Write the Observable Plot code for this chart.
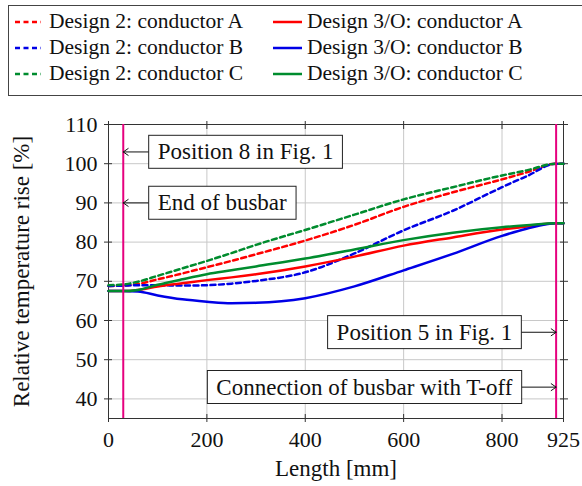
<!DOCTYPE html>
<html><head><meta charset="utf-8">
<script src="https://cdn.jsdelivr.net/npm/d3@7"></script>
<script src="https://cdn.jsdelivr.net/npm/@observablehq/plot@0.6"></script>
<style>
body{margin:0;background:#fff;font-family:"Liberation Serif","Times New Roman",Tinos,"DejaVu Serif","Noto Serif",serif;}
#legend{position:relative;width:582px;height:100px;overflow:hidden;}
#legend .box{position:absolute;left:8px;top:5px;width:600px;height:91px;border:1px solid #444;box-sizing:border-box;}
.item{position:absolute;font-size:21.5px;white-space:nowrap;line-height:1;color:#111;}
.sample{position:absolute;}
#chart svg{display:block;}
</style></head><body>
<div id="legend"><div class="box"></div></div>
<div id="chart"></div>
<script>
// x positions along the busbar (mm)
const lengths = [0, 30, 60, 100, 150, 200, 250, 300, 400, 500, 600, 700, 800, 850, 910, 925];
// Design 2 (dashed)
const d2A = [68.8, 68.9, 69.3, 70.5, 72.0, 73.6, 75.2, 76.9, 80.4, 84.4, 89.0, 92.7, 96.0, 97.8, 100, 100];
const d2B = [68.8, 68.9, 69.0, 69.0, 68.9, 69.0, 69.4, 70.1, 72.3, 77.1, 83.0, 88.0, 94.0, 96.8, 100, 100];
const d2C = [69.0, 69.2, 69.9, 71.4, 73.3, 75.2, 77.2, 79.3, 83.1, 87.0, 90.9, 94.0, 97.0, 98.3, 100, 100];
// Design 3/O (solid)
const d3A = [67.5, 67.5, 67.8, 68.7, 69.5, 70.3, 71.0, 71.8, 73.8, 76.3, 79.1, 81.2, 83.2, 84.0, 84.8, 84.8];
const d3B = [67.5, 67.5, 67.4, 66.4, 65.4, 64.8, 64.4, 64.5, 65.7, 68.7, 72.8, 77.0, 81.6, 83.4, 84.8, 84.8];
const d3C = [67.5, 67.5, 67.8, 69.1, 70.5, 71.8, 72.8, 73.8, 75.8, 78.1, 80.5, 82.4, 83.8, 84.3, 84.8, 84.8];

const seriesNames = ["Design 2: conductor A", "Design 2: conductor B", "Design 2: conductor C",
                     "Design 3/O: conductor A", "Design 3/O: conductor B", "Design 3/O: conductor C"];
const seriesValues = [d2A, d2B, d2C, d3A, d3B, d3C];
const seriesColors = ["#ff0000", "#0000e6", "#008c2e", "#ff0000", "#0000e6", "#008c2e"];
const seriesDashed = [true, true, true, false, false, false];

const xTicks = [0, 200, 400, 600, 800, 925];
const yTicks = [40, 50, 60, 70, 80, 90, 100, 110];
const markerLines = [30, 910];

const annTexts = ["Position 8 in Fig. 1", "End of busbar", "Position 5 in Fig. 1", "Connection of busbar with T-off"];
const annY = [103, 90, 57, 43];
const annTextX = [100, 100, 821, 821];
const annTarget = [30, 30, 910, 910];
const annAnchor = ["start", "start", "end", "end"];

const annotations = annTexts.map((t, i) => ({text: t, y: annY[i], x: annTextX[i], target: annTarget[i], anchor: annAnchor[i]}));

const FONT = '"Liberation Serif", "Times New Roman", Tinos, "DejaVu Serif", "Noto Serif", serif';

// legend
const legend = document.getElementById("legend");
const rowY = [22, 48, 74];
seriesNames.forEach((name, i) => {
  const col = i < 3 ? 0 : 1, row = i % 3;
  const sx = col === 0 ? 15 : 273, sw = col === 0 ? 26 : 29;
  const tx = col === 0 ? 49 : 307;
  const s = document.createElementNS("http://www.w3.org/2000/svg", "svg");
  s.setAttribute("class", "sample");
  s.setAttribute("width", sw); s.setAttribute("height", 6);
  s.style.left = sx + "px"; s.style.top = (rowY[row] - 3) + "px";
  const l = document.createElementNS("http://www.w3.org/2000/svg", "line");
  l.setAttribute("x1", 0); l.setAttribute("x2", sw); l.setAttribute("y1", 3); l.setAttribute("y2", 3);
  l.setAttribute("stroke", seriesColors[i]); l.setAttribute("stroke-width", 2.5);
  if (seriesDashed[i]) l.setAttribute("stroke-dasharray", "5,3.5");
  s.append(l);
  legend.append(s);
  const d = document.createElement("div");
  d.className = "item"; d.textContent = name;
  d.style.left = tx + "px"; d.style.top = (rowY[row] - 11) + "px";
  legend.append(d);
});

const data = [];
seriesNames.forEach((name, i) => lengths.forEach((x, j) => data.push({series: name, x, y: seriesValues[i][j], i})));

const plot = Plot.plot({
  width: 582, height: 386,
  marginTop: 24, marginBottom: 68, marginLeft: 108, marginRight: 19,
  style: {fontFamily: FONT, fontSize: "22px", color: "#111", background: "#fff"},
  x: {domain: [0, 925]},
  y: {domain: [35, 110]},
  marks: [
    Plot.gridX(xTicks.slice(1, -1), {stroke: "#c8c8c8", strokeOpacity: 1, strokeWidth: 1}),
    Plot.gridY(yTicks.slice(0, -1), {stroke: "#c8c8c8", strokeOpacity: 1, strokeWidth: 1}),
    // tick marks crossing the frame
    Plot.axisX(xTicks, {anchor: "bottom", tickSize: 8, dy: -4, tickFormat: () => "", label: null, stroke: "#333"}),
    Plot.axisX(xTicks, {anchor: "top", tickSize: 8, dy: 4, tickFormat: () => "", label: null, stroke: "#333"}),
    Plot.axisY(yTicks, {anchor: "left", tickSize: 8, dx: 4, tickFormat: () => "", label: null, stroke: "#333"}),
    Plot.axisY(yTicks, {anchor: "right", tickSize: 8, dx: -4, tickFormat: () => "", label: null, stroke: "#333"}),
    // tick labels
    Plot.axisX(xTicks, {anchor: "bottom", tickSize: 0, tickPadding: 13, label: null, fill: "#111", fontFamily: FONT}),
    Plot.axisY(yTicks, {anchor: "left", tickSize: 0, tickPadding: 11, label: null, fill: "#111", fontFamily: FONT}),
    Plot.frame({stroke: "#333", strokeWidth: 1}),
    ...seriesNames.map((name, i) => Plot.line(data.filter(d => d.i === i), {
      x: "x", y: "y", stroke: seriesColors[i], strokeWidth: 2.5, curve: "monotone-x",
      strokeDasharray: seriesDashed[i] ? "5,3.5" : null
    })),
    Plot.ruleX(markerLines, {stroke: "#e6007e", strokeWidth: 2}),
    Plot.arrow(annotations, {
      x1: "x", x2: "target", y1: "y", y2: "y", stroke: "#111", strokeWidth: 1,
      insetStart: 9, headLength: 9, headAngle: 70
    }),
    Plot.text(annotations.filter(a => a.anchor === "start"), {x: "x", y: "y", text: "text", textAnchor: "start", fontSize: 23, fontFamily: FONT, fill: "#111"}),
    Plot.text(annotations.filter(a => a.anchor === "end"), {x: "x", y: "y", text: "text", textAnchor: "end", fontSize: 23, fontFamily: FONT, fill: "#111"}),
    Plot.text(["Length [mm]"], {frameAnchor: "bottom", textAnchor: "middle", dy: 57, fontSize: 23, fontFamily: FONT, fill: "#111"}),
    Plot.text(["Relative temperature rise [%]"], {frameAnchor: "left", textAnchor: "middle", dx: -87, rotate: -90, fontSize: 23, fontFamily: FONT, fill: "#111"})
  ]
});
document.getElementById("chart").append(plot);

// boxes around annotation texts
const svg = plot.tagName.toLowerCase() === "svg" ? plot : plot.querySelector("svg");
for (const t of svg.querySelectorAll("text")) {
  if (annTexts.includes(t.textContent)) {
    const b = t.getBBox();
    const r = document.createElementNS("http://www.w3.org/2000/svg", "rect");
    r.setAttribute("x", b.x - 9); r.setAttribute("y", b.y - 4);
    r.setAttribute("width", b.width + 18); r.setAttribute("height", b.height + 8);
    r.setAttribute("fill", "#fff"); r.setAttribute("stroke", "#222"); r.setAttribute("stroke-width", 1);
    if (t.getAttribute("transform")) r.setAttribute("transform", t.getAttribute("transform"));
    t.parentNode.insertBefore(r, t);
  }
}
</script>
</body></html>
